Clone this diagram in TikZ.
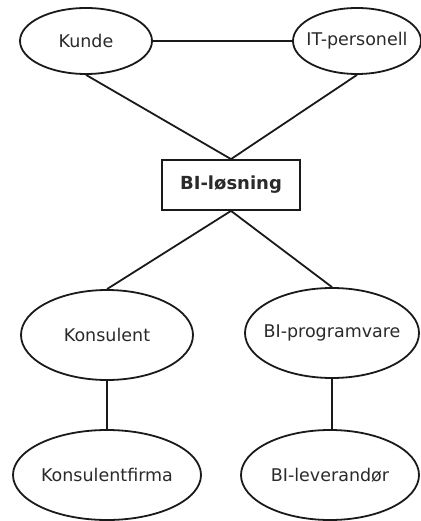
\documentclass[tikz,border=0pt]{standalone}
\usepackage{fontspec}
\setmainfont{DejaVu Sans}
\usetikzlibrary{shapes.geometric}
\definecolor{ink}{HTML}{1A1A1A}
\definecolor{label}{HTML}{2A2A2A}
\tikzset{
  entity/.style={ellipse, draw=ink, line width=1.8pt, inner sep=0pt},
  caption/.style={font=\fontsize{17.5}{20}\selectfont, text=label, inner sep=0pt},
  core/.style={rectangle, draw=ink, line width=1.8pt, inner sep=0pt,
    minimum width=138pt, minimum height=50pt,
    font=\bfseries\fontsize{18}{20}\selectfont, text=label},
  link/.style={draw=ink, line width=1.8pt}
}
\begin{document}
\begin{tikzpicture}[x=1pt, y=-1pt]
  \useasboundingbox (0,0) rectangle (420,521);
  % actors around the BI solution (ellipse size fixed, caption placed inside)
  \node[entity, minimum width=132pt, minimum height=66pt,
        label={[caption]center:Kunde}] (kunde) at (86,41) {};
  \node[entity, minimum width=128pt, minimum height=66pt,
        label={[caption]center:IT-personell}] (it) at (357,41) {};
  \node[core] (bi) at (231,185) {BI-løsning};
  \node[entity, minimum width=172pt, minimum height=90pt,
        label={[caption]center:Konsulent}] (kons) at (107,335) {};
  \node[entity, minimum width=174pt, minimum height=90pt,
        label={[caption]center:BI-programvare}] (prog) at (332,333) {};
  \node[entity, minimum width=188pt, minimum height=90pt,
        label={[caption]center:Konsulentfirma}] (firma) at (107,475) {};
  \node[entity, minimum width=178pt, minimum height=90pt,
        label={[caption]center:BI-leverandør}] (lev) at (330,475) {};
  % relations
  \draw[link] (kunde.east) -- (it.west);
  \draw[link] (kunde.south) -- (bi.north);
  \draw[link] (it.south) -- (bi.north);
  \draw[link] (bi.south) -- (kons.north);
  \draw[link] (bi.south) -- (prog.north);
  \draw[link] (kons.south) -- (firma.north);
  \draw[link] (prog.south) -- (prog.south |- lev.north);
\end{tikzpicture}
\end{document}
